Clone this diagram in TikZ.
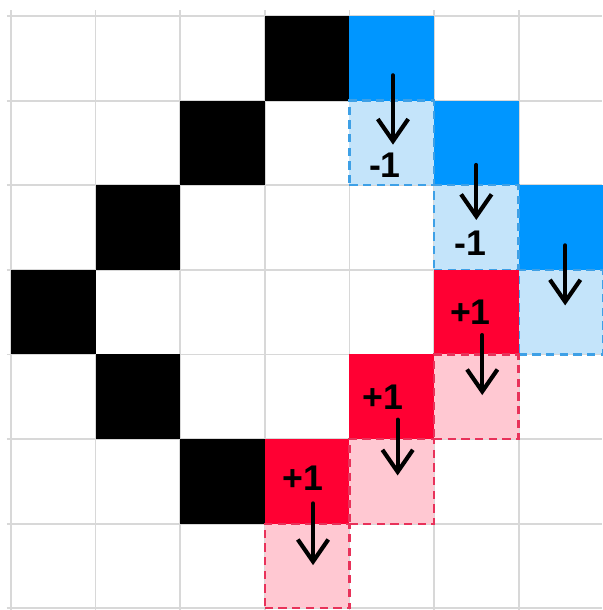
\documentclass[tikz,border=0pt]{standalone}
\usepackage{fontspec}
\setsansfont{Liberation Sans}
\usetikzlibrary{arrows.meta}

\definecolor{decblue}{RGB}{0,150,255}
\definecolor{declight}{RGB}{196,228,250}
\definecolor{decedge}{RGB}{62,160,230}
\definecolor{incred}{RGB}{255,0,51}
\definecolor{inclight}{RGB}{255,200,210}
\definecolor{incedge}{RGB}{232,50,90}
\definecolor{gridgray}{RGB}{216,216,216}

\begin{document}
\begin{tikzpicture}[
    cell/.style={rectangle, minimum size=1cm, inner sep=0pt,
      outer sep=0pt, anchor=south west},
    wall/.style={cell, fill=black},
    dec/.style={cell, fill=decblue},
    decnext/.style={cell, fill=declight, draw=decedge, line width=0.8pt,
      dash pattern=on 2.8pt off 1.8pt},
    inc/.style={cell, fill=incred},
    incnext/.style={cell, fill=inclight, draw=incedge, line width=0.8pt,
      dash pattern=on 2.8pt off 1.8pt},
    val/.style={font=\sffamily\bfseries\large, inner sep=0pt},
    push/.style={-{Straight Barb[length=2.6mm, width=3.6mm]},
      line width=1.4pt, line cap=round}
  ]
    \useasboundingbox (-0.13,-0.02) rectangle (6.986,7.19);

    % grid
    \foreach \y in {0,...,7}
      \draw[gridgray, line width=0.6pt] (-0.05,\y) -- (6.986,\y);
    \foreach \x in {0,...,6}
      \draw[gridgray, line width=0.6pt] (\x,-0.02) -- (\x,7.07);

    % walls
    \node[wall] (w0) at (3,6) {};
    \node[wall] (w1) at (2,5) {};
    \node[wall] (w2) at (1,4) {};
    \node[wall] (w3) at (0,3) {};
    \node[wall] (w4) at (1,2) {};
    \node[wall] (w5) at (2,1) {};

    % cells going down by one
    \node[dec] (d0) at (4,6) {};
    \node[dec] (d1) at (5,5) {};
    \node[dec] (d2) at (6,4) {};
    \node[decnext] (dn0) at (4,5) {};
    \node[decnext] (dn1) at (5,4) {};
    \node[decnext] (dn2) at (6,3) {};

    % cells going up by one
    \node[inc] (i0) at (5,3) {};
    \node[inc] (i1) at (4,2) {};
    \node[inc] (i2) at (3,1) {};
    \node[incnext] (in0) at (5,2) {};
    \node[incnext] (in1) at (4,1) {};
    \node[incnext] (in2) at (3,0) {};

    % arrow ends
    \coordinate (d0a) at (4.515,6.30);
    \coordinate (d0b) at (4.515,5.48);
    \coordinate (d1a) at (5.50,5.24);
    \coordinate (d1b) at (5.50,4.59);
    \coordinate (d2a) at (6.55,4.29);
    \coordinate (d2b) at (6.55,3.58);
    \coordinate (i0a) at (5.57,3.23);
    \coordinate (i0b) at (5.57,2.52);
    \coordinate (i1a) at (4.57,2.23);
    \coordinate (i1b) at (4.57,1.57);
    \coordinate (i2a) at (3.57,1.24);
    \coordinate (i2b) at (3.57,0.51);

    \draw[push] (d0a) -- (d0b);
    \draw[push] (d1a) -- (d1b);
    \draw[push] (d2a) -- (d2b);
    \draw[push] (i0a) -- (i0b);
    \draw[push] (i1a) -- (i1b);
    \draw[push] (i2a) -- (i2b);

    % labels
    \node[val] (l0) at (4.42,5.24) {-1};
    \node[val] (l1) at (5.43,4.32) {-1};
    \node[val] (l2) at (5.43,3.50) {+1};
    \node[val] (l3) at (4.40,2.50) {+1};
    \node[val] (l4) at (3.45,1.54) {+1};
  \end{tikzpicture}
\end{document}
